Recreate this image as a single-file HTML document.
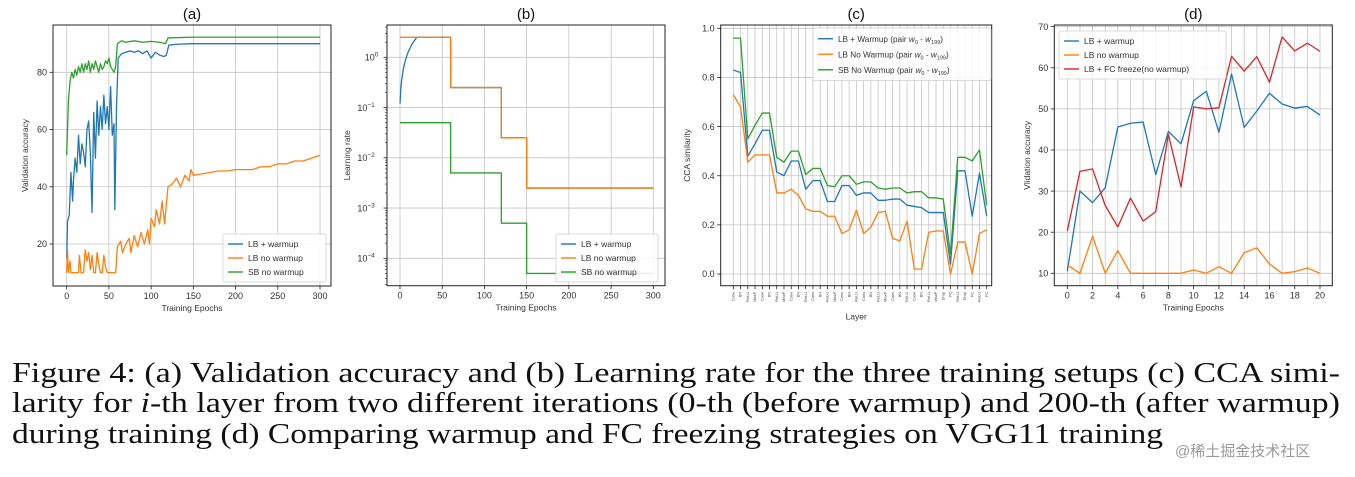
<!DOCTYPE html>
<html><head><meta charset="utf-8"><style>
html,body{margin:0;padding:0;background:#fff;}
svg{display:block;font-family:"Liberation Sans","DejaVu Sans",sans-serif;}
</style></head><body>
<svg id="fig" width="1355" height="477" viewBox="0 0 1355 477">
<g id="caption" style="font-family:'Liberation Serif',serif" font-size="29" fill="#111">
<text x="12" y="382" textLength="1328" lengthAdjust="spacingAndGlyphs">Figure 4: (a) Validation accuracy and (b) Learning rate for the three training setups (c) CCA simi-</text>
<text x="12" y="412" textLength="1328" lengthAdjust="spacingAndGlyphs">larity for <tspan font-style="italic">i</tspan>-th layer from two different iterations (0-th (before warmup) and 200-th (after warmup)</text>
<text x="12" y="443" textLength="1151" lengthAdjust="spacingAndGlyphs">during training (d) Comparing warmup and FC freezing strategies on VGG11 training</text>
</g>
<text x="1175" y="456" style="font-family:'Liberation Sans','Noto Sans CJK SC',sans-serif" font-size="15" fill="#9a9a9a">@稀土掘金技术社区</text>
</svg>
<script>
// ---------- data ----------
const aBlueEp=[0,1,3,5,7,8,10,12,14,16,18,20,22,24,26,28,30,32,34,36,38,40,42,44,46,48,50,52,54,56,57,59,61,65,70,75,80,85,90,95,100,105,110,115,118,121,130,150,200,250,300];
const aBlueVal=[15,28,30,45,35,42,50,45,58,48,55,52,47,60,63,52,31,66,50,70,58,68,60,72,62,68,60,75,58,62,32,68,85,86.5,87,87.5,87,87.5,86.5,87.5,85,87,86,85.5,86,89.5,89.8,90,90,90,90];
const aOrangeEp=[0,1,2,4,5,10,14,15,17,20,22,24,26,28,30,32,34,36,38,40,42,44,46,48,58,60,64,66,70,74,76,80,84,88,92,96,98,100,104,106,110,113,116,118,120,125,130,135,140,145,147,150,160,170,180,190,200,210,220,230,240,250,260,270,280,290,300];
const aOrangeVal=[10,18,10,14,10,10,10,16,10,10,18,14,17,11,16,10,10,17,13,10,10,16,12,10,10,19,21,17,20,22,17,23,19,24,20,25,20,29,26,32,27,35,27,34,40,41,43,40,44,42,46,44,44.5,45,45.5,45.5,46,46,46,47,47,48,48,49,49,50,51];
const aGreenEp=[0,2,4,6,8,10,12,14,16,18,20,22,24,26,28,30,32,34,36,38,40,42,44,46,48,50,52,54,56,58,60,65,70,80,90,100,110,117,120,150,200,300];
const aGreenVal=[51,70,77,80,78,81,79,82,80,83,80,83,81,84,80,83,81,84,82,80,83,81,82,84,83,85,82,81,80,82,90,91,90.5,91,90.5,90.8,90.5,90,92,92.3,92.3,92.3];
const aXTicks=[0,50,100,150,200,250,300];
const aYTicks=[20,40,60,80];

const bBlueEp=[0,1,2,4,6,8,10,13,16,20,60,60,120,120,150,150,300];
const bBlueVal=[0.12,0.24,0.36,0.6,0.83,1.07,1.31,1.67,2.03,2.5,2.5,0.25,0.25,0.025,0.025,0.0025,0.0025];
const bOrangeEp=[0,60,60,120,120,150,150,300];
const bOrangeVal=[2.5,2.5,0.25,0.25,0.025,0.025,0.0025,0.0025];
const bGreenEp=[0,60,60,120,120,150,150,300];
const bGreenVal=[0.05,0.05,0.005,0.005,0.0005,0.0005,0.00005,0.00005];
const bXTicks=[0,50,100,150,200,250,300];
const bYExps=[0,-1,-2,-3,-4];

const cLayers=["Conv","BN","ReLU","MaxP","Conv","BN","ReLU","MaxP","Conv","BN","ReLU","Conv","BN","ReLU","MaxP","Conv","BN","ReLU","Conv","BN","ReLU","MaxP","Conv","BN","ReLU","Conv","BN","ReLU","MaxP","Drop","FC","ReLU","Drop","FC","ReLU","FC"];
const cBlue=[0.83,0.82,0.48,0.53,0.585,0.585,0.415,0.40,0.46,0.46,0.345,0.38,0.38,0.295,0.295,0.36,0.36,0.32,0.33,0.33,0.30,0.30,0.305,0.305,0.28,0.275,0.27,0.25,0.25,0.25,0.04,0.42,0.42,0.235,0.41,0.235];
const cOrange=[0.73,0.68,0.455,0.485,0.485,0.485,0.33,0.33,0.345,0.32,0.265,0.255,0.255,0.235,0.235,0.165,0.18,0.26,0.165,0.19,0.25,0.255,0.145,0.135,0.215,0.02,0.02,0.17,0.175,0.175,0.0,0.13,0.13,0.0,0.165,0.18];
const cGreen=[0.96,0.96,0.55,0.605,0.655,0.655,0.475,0.455,0.50,0.50,0.405,0.43,0.43,0.36,0.355,0.40,0.40,0.365,0.375,0.375,0.35,0.345,0.35,0.35,0.33,0.335,0.335,0.31,0.31,0.305,0.08,0.475,0.475,0.46,0.505,0.28];
const cYTicks=[0.0,0.2,0.4,0.6,0.8,1.0];

const dEpochs=[0,1,2,3,4,5,6,7,8,9,10,11,12,13,14,15,16,17,18,19,20];
const dBlue=[10.5,30,27.2,30.8,45.6,46.5,46.8,34,44.5,41.5,52,54.3,44.3,58.5,45.5,49.5,53.8,51.2,50.2,50.6,48.5];
const dOrange=[12,10,19,10,15.5,10,10,10,10,10,10.8,10,11.6,10,15,16.2,12.3,10,10.4,11.3,10];
const dRed=[20.3,34.8,35.4,26.5,21.3,28.3,22.7,25,43.8,31,50.5,50,50.3,62.8,59.2,62.7,56.5,67.5,64.1,66,64];
const dXTicks=[0,2,4,6,8,10,12,14,16,18,20];
const dYTicks=[10,20,30,40,50,60,70];

// ---------- helpers ----------
const NS="http://www.w3.org/2000/svg";
const svg=document.getElementById('fig');
function el(tag,attrs,parent,text){const e=document.createElementNS(NS,tag);for(const k in attrs)e.setAttribute(k,attrs[k]);if(text!==undefined)e.textContent=text;(parent||svg).appendChild(e);return e;}
function lin(d0,d1,r0,r1){return v=>r0+(v-d0)*(r1-r0)/(d1-d0);}
const C={blue:'#1f77b4',orange:'#ff7f0e',green:'#2ca02c',red:'#d62728'};

function panel(name,box,title){
  const g=el('g',{});
  
  
  const t=el('text',{x:(box.x0+box.x1)/2,y:19,'text-anchor':'middle','font-size':15,fill:'#111'},g,title);
  
  
  return g;
}
function frame(g,box){
  const r=el('rect',{x:box.x0,y:box.y0,width:box.x1-box.x0,height:box.y1-box.y0,fill:'none',stroke:'#222','stroke-width':1},g);
  
  
}
function xtick(g,box,px,label,fs){
  el('line',{x1:px,y1:box.y0,x2:px,y2:box.y1,stroke:'#c4c4c4','stroke-width':0.8},g);
  el('line',{x1:px,y1:box.y1,x2:px,y2:box.y1+3.5,stroke:'#222','stroke-width':0.8},g);
  if(label!==null){const t=el('text',{x:px,y:box.y1+13,'text-anchor':'middle','font-size':fs||9,fill:'#333'},g,label);
  
  }
}
function ytick(g,box,py,label,sup){
  el('line',{x1:box.x0,y1:py,x2:box.x1,y2:py,stroke:'#c4c4c4','stroke-width':0.8},g);
  el('line',{x1:box.x0-3.5,y1:py,x2:box.x0,y2:py,stroke:'#222','stroke-width':0.8},g);
  const t=el('text',{x:box.x0-6,y:py+3.2,'text-anchor':'end','font-size':9,fill:'#333'},g);
  
  
  if(sup!==undefined){t.setAttribute('x',box.x0-5-sup.length*3.6);t.textContent=label;
    el('tspan',{dy:-4,'font-size':6.5},t,sup);} else t.textContent=label;
}
function axisLabels(g,box,xl,yl,yx){
  const a=el('text',{x:(box.x0+box.x1)/2,y:box.y1+25,'text-anchor':'middle','font-size':8.5,fill:'#333'},g,xl);
  
  
  const cy=(box.y0+box.y1)/2;
  const b=el('text',{x:yx,y:cy,'text-anchor':'middle','font-size':8.5,fill:'#333',transform:`rotate(-90 ${yx} ${cy})`},g,yl);
  
  
  return a;
}
function series(g,xs,ys,fx,fy,color,name,w){
  const pts=xs.map((x,i)=>fx(x).toFixed(2)+','+fy(ys[i]).toFixed(2)).join(' ');
  const p=el('polyline',{points:pts,fill:'none',stroke:color,'stroke-width':w||1.3,'stroke-linejoin':'round'},g);
  
  
}
function legend(g,x,y,w,rowH,items,fs){
  const h=items.length*rowH+6;
  const r=el('rect',{x:x,y:y,width:w,height:h,rx:2,fill:'#fff','fill-opacity':0.85,stroke:'#d0d0d0','stroke-width':0.8},g);
  
  
  items.forEach((it,i)=>{
    const cy=y+3+rowH*(i+0.5);
    el('line',{x1:x+5,y1:cy,x2:x+20,y2:cy,stroke:it.c,'stroke-width':1.4},g);
    const t=el('text',{x:x+25,y:cy+3.2,'font-size':fs||8.5,fill:'#333'},g);
    
    
    if(typeof it.t==='string')t.textContent=it.t; else it.t(t);
  });
}

// ---------- panel a ----------
{
 const box={x0:53,x1:331,y0:25,y1:286};
 const g=panel('panel-a-accuracy',box,'(a)');
 const fx=lin(0,300,66.7,320), fy=lin(20,80,244,72.3);
 aXTicks.forEach(v=>xtick(g,box,fx(v),String(v)));
 aYTicks.forEach(v=>ytick(g,box,fy(v),String(v)));
 series(g,aBlueEp,aBlueVal,fx,fy,C.blue,'line-lb-warmup');
 series(g,aOrangeEp,aOrangeVal,fx,fy,C.orange,'line-lb-no-warmup');
 series(g,aGreenEp,aGreenVal,fx,fy,C.green,'line-sb-no-warmup');
 frame(g,box);
 axisLabels(g,box,'Training Epochs','Validation accuracy',28);
 legend(g,223,234,103,14,[{t:'LB + warmup',c:C.blue},{t:'LB no warmup',c:C.orange},{t:'SB no warmup',c:C.green}]);
}
// ---------- panel b ----------
{
 const box={x0:387,x1:665,y0:25,y1:285.7};
 const g=panel('panel-b-learning-rate',box,'(b)');
 const fx=lin(0,300,400,653.3), fl=lin(0,-4,57.3,258.3), fy=v=>fl(Math.log10(v));
 bXTicks.forEach(v=>xtick(g,box,fx(v),String(v)));
 bYExps.forEach(e=>ytick(g,box,fl(e),'10',e===0?'0':'\u2212'+(-e)));
 for(let e=1;e>=-5;e--)for(let m=2;m<10;m++){const py=fl(e-1+Math.log10(m));if(py>box.y0&&py<box.y1)el('line',{x1:box.x0-2,y1:py,x2:box.x0,y2:py,stroke:'#222','stroke-width':0.6},g);}
 series(g,bBlueEp,bBlueVal,fx,fy,C.blue,'line-lb-warmup');
 series(g,bOrangeEp,bOrangeVal,fx,fy,C.orange,'line-lb-no-warmup');
 series(g,bGreenEp,bGreenVal,fx,fy,C.green,'line-sb-no-warmup');
 frame(g,box);
 axisLabels(g,box,'Training Epochs','Learning rate',350);
 legend(g,556,234,102,14,[{t:'LB + warmup',c:C.blue},{t:'LB no warmup',c:C.orange},{t:'SB no warmup',c:C.green}]);
}
// ---------- panel c ----------
{
 const box={x0:720.7,x1:991.7,y0:25,y1:285.7};
 const g=panel('panel-c-cca-similarity',box,'(c)');
 const n=cLayers.length;
 const fx=lin(0,n-1,733.3,986.7), fy=lin(0,1,274,28.3);
 const idx=cLayers.map((_,i)=>i);
 cLayers.forEach((l,i)=>{
   xtick(g,box,fx(i),null);
   const px=fx(i), py=box.y1+6;
   const t=el('text',{x:px+1.2,y:py,'text-anchor':'end','font-size':4,fill:'#444',transform:`rotate(-90 ${px+1.2} ${py})`},g,l);
   
   
 });
 cYTicks.forEach(v=>ytick(g,box,fy(v),v.toFixed(1)));
 series(g,idx,cBlue,fx,fy,C.blue,'line-lb-warmup-cca');
 series(g,idx,cOrange,fx,fy,C.orange,'line-lb-no-warmup-cca');
 series(g,idx,cGreen,fx,fy,C.green,'line-sb-no-warmup-cca');
 frame(g,box);
 const xl=axisLabels(g,box,'Layer','CCA similarity',690);
 xl.setAttribute('y',box.y1+34);
 const mk=(pre)=>t=>{t.appendChild(document.createTextNode(pre+' (pair '));
   el('tspan',{'font-style':'italic'},t,'w');el('tspan',{dy:2,'font-size':5.5},t,'0');
   el('tspan',{dy:-2},t,' - ');el('tspan',{'font-style':'italic'},t,'w');
   el('tspan',{dy:2,'font-size':5.5},t,'199');el('tspan',{dy:-2},t,')');};
 legend(g,813,28,178,15.5,[{t:mk('LB + Warmup'),c:C.blue},{t:mk('LB No Warmup'),c:C.orange},{t:mk('SB No Warmup'),c:C.green}],8.2);
}
// ---------- panel d ----------
{
 const box={x0:1054.3,x1:1332.3,y0:25,y1:285.7};
 const g=panel('panel-d-fc-freeze',box,'(d)');
 const fx=lin(0,20,1067.3,1320), fy=lin(10,70,273.3,26.7);
 dXTicks.forEach(v=>xtick(g,box,fx(v),String(v)));
 dEpochs.forEach(v=>{if(v%2)el('line',{x1:fx(v),y1:box.y0,x2:fx(v),y2:box.y1,stroke:'#c4c4c4','stroke-width':0.8},g);});
 dYTicks.forEach(v=>ytick(g,box,fy(v),String(v)));
 series(g,dEpochs,dBlue,fx,fy,C.blue,'line-lb-warmup');
 series(g,dEpochs,dOrange,fx,fy,C.orange,'line-lb-no-warmup');
 series(g,dEpochs,dRed,fx,fy,C.red,'line-lb-fc-freeze');
 frame(g,box);
 axisLabels(g,box,'Training Epochs','Vlidation accuracy',1030);
 legend(g,1059,31,167,14,[{t:'LB + warmup',c:C.blue},{t:'LB no warmup',c:C.orange},{t:'LB + FC freeze(no warmup)',c:C.red}]);
}
</script>
</body></html>
